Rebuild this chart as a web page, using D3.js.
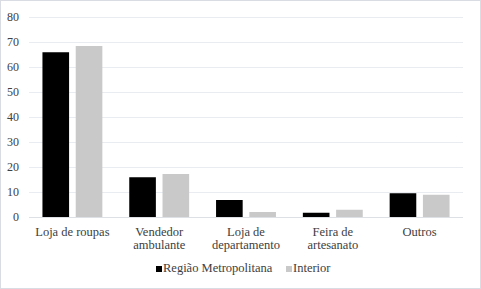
<!DOCTYPE html>
<html>
<head>
<meta charset="utf-8">
<script src="https://cdn.jsdelivr.net/npm/d3@7"></script>
</head>
<body style="margin:0; background:#fff">
<div id="main" style="position:relative; width:481px; height:289px;"></div>
<script>
var categories = [["Loja de roupas"], ["Vendedor", "ambulante"], ["Loja de", "departamento"], ["Feira de", "artesanato"], ["Outros"]];
var seriesNames = ["Região Metropolitana", "Interior"];
var metropolitana = [65.9, 15.9, 6.8, 1.7, 9.5];
var interior = [68.4, 17.2, 2.0, 2.9, 8.9];
var yTicks = [0, 10, 20, 30, 40, 50, 60, 70, 80];
var colors = ["#000000", "#c9c9c9"];

var width = 481, height = 289;
var margin = {top: 17, right: 18, bottom: 72, left: 29};
var font = "'Liberation Serif', 'Times New Roman', serif";

var div = d3.select("#main");
var svg = div.append("svg")
    .attr("width", width)
    .attr("height", height)
    .style("display", "block");

// labels are html so the serif face is used
var labels = div.append("div")
    .style("position", "absolute")
    .style("left", "0px").style("top", "0px")
    .style("width", width + "px").style("height", height + "px")
    .style("font-family", font)
    .style("color", "#404040");

// outer frame
svg.append("rect")
    .attr("x", 0.5).attr("y", 0.5)
    .attr("width", width - 1).attr("height", height - 1)
    .attr("fill", "#fff")
    .attr("stroke", "#d9dde3");

var x = d3.scaleBand()
    .domain(d3.range(categories.length))
    .range([margin.left, width - margin.right])
    .paddingInner(0.31)
    .paddingOuter(0.155);

var x1 = d3.scaleBand()
    .domain([0, 1])
    .range([0, x.bandwidth()])
    .paddingInner(0.2);

var y = d3.scaleLinear()
    .domain([0, 80])
    .range([height - margin.bottom, margin.top]);

// gridlines
svg.append("g")
  .selectAll("line")
  .data(yTicks)
  .enter()
  .append("line")
    .attr("x1", margin.left)
    .attr("x2", width - margin.right)
    .attr("y1", function(d) { return Math.round(y(d)) + 0.5; })
    .attr("y2", function(d) { return Math.round(y(d)) + 0.5; })
    .attr("stroke", function(d) { return d === 0 ? "#dde1e6" : "#e9ecf0"; })
    .attr("stroke-width", 1);

var series = [metropolitana, interior];
series.forEach(function(vals, s) {
  svg.append("g")
    .selectAll("rect")
    .data(vals)
    .enter()
    .append("rect")
      .attr("x", function(d, i) { return x(i) + x1(s); })
      .attr("y", function(d) { return y(d); })
      .attr("width", x1.bandwidth())
      .attr("height", function(d) { return y(0) - y(d); })
      .attr("fill", colors[s]);
});

// y tick labels
labels.selectAll("div.tick")
  .data(yTicks)
  .enter()
  .append("div")
    .attr("class", "tick")
    .style("position", "absolute")
    .style("left", "19px")
    .style("top", function(d) { return y(d) + "px"; })
    .style("transform", "translate(-100%, -50%)")
    .style("font-size", "12px")
    .style("line-height", "12px")
    .style("white-space", "nowrap")
    .text(function(d) { return d; });

// category labels
labels.selectAll("div.cat")
  .data(categories)
  .enter()
  .append("div")
    .attr("class", "cat")
    .style("position", "absolute")
    .style("left", function(d, i) { return (x(i) + x.bandwidth() / 2) + "px"; })
    .style("top", "226px")
    .style("transform", "translateX(-50%)")
    .style("text-align", "center")
    .style("font-size", "12.5px")
    .style("line-height", "13px")
    .style("white-space", "nowrap")
    .html(function(d) { return d.join("<br>"); });

// legend
var legendX = [156, 286];
var legend = labels.selectAll("div.leg")
  .data(seriesNames)
  .enter()
  .append("div")
    .attr("class", "leg")
    .style("position", "absolute")
    .style("left", function(d, i) { return legendX[i] + "px"; })
    .style("top", "262px")
    .style("font-size", "12.5px")
    .style("line-height", "13px")
    .style("white-space", "nowrap");
legend.append("span")
    .style("display", "inline-block")
    .style("width", "6px").style("height", "6px")
    .style("margin-right", "1px")
    .style("background", function(d, i) { return colors[i]; });
legend.append("span")
    .text(function(d) { return d; });
</script>
</body>
</html>
